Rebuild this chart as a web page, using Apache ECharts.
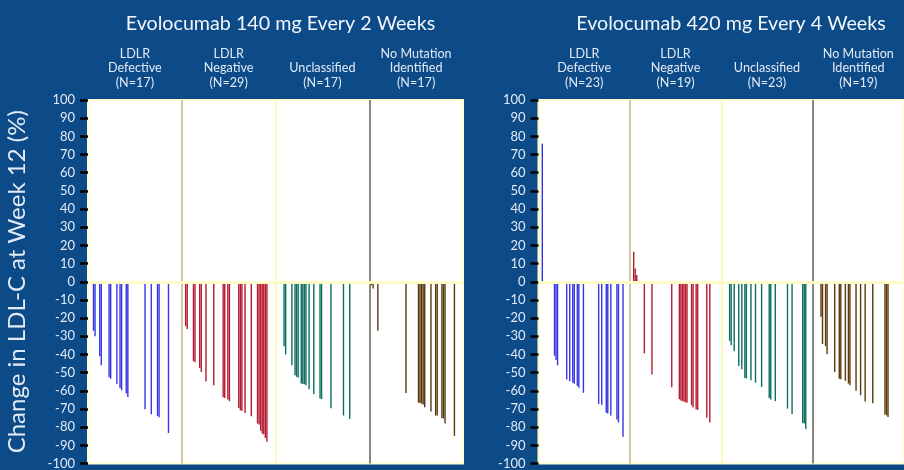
<!DOCTYPE html>
<html>
<head>
<meta charset="utf-8">
<script src="https://cdn.jsdelivr.net/npm/echarts@6/dist/echarts.min.js"></script>
<style>
  html, body { margin: 0; padding: 0; background: #0c4a88; }
  #chart { width: 904px; height: 470px; }
</style>
</head>
<body>
<div id="chart"></div>
<script>
// Percent change in LDL-C at week 12, one bar per patient, grouped by genotype.
// Each array is one genotype group; null marks an empty patient slot.
const panelTitles = ['Evolocumab 140 mg Every 2 Weeks', 'Evolocumab 420 mg Every 4 Weeks'];

const groupNames = ['LDLR\nDefective', 'LDLR\nNegative', 'Unclassified', 'No Mutation\nIdentified'];
const groupCountsQ2W = [17, 29, 17, 17];
const groupCountsQ4W = [23, 19, 23, 19];

const yTicks = { min: -100, max: 100, step: 10 };

// 140 mg every 2 weeks
const q2wDefective = [
  null, null, null, -27, -30, null, null, -41, -46, null,
  null, null, null, -52.5, -53.4, null, null, null, -56.2, null,
  -58.4, -59.7, null, null, -61.5, -63.4, null, null, null, null,
  null, null, null, null, null, null, -70.2, null, null, null,
  -72.9, null, null, null, -73.8, -74.6, null, null, null, null,
  null, -83.2
];
const q2wNegative = [
  null, null, -24.4, -26, null, null, null, -43.7, -44.3, null,
  null, -47.4, -49.6, null, null, -54.9, null, null, null, null,
  -56.9, null, null, null, null, null, -63.6, -63.9, null, -64.8,
  -65.7, null, null, null, null, null, -69.4, -70.7, -71.1, null,
  -72.2, null, null, null, -74, null, null, null, -78, -78.5,
  -82, -83.5, -84, -86, -88
];
const q2wUnclassified = [
  null, null, null, null, null, -35.5, -40, null, null, null,
  -46, null, -51.4, -52.3, -52.7, null, -56, -56.2, -56.4, -57,
  null, -59.1, null, null, -61.7, null, null, null, -64.3, -64.5,
  null, null, null, null, null, -69.6, null, null, null, null,
  null, null, null, -73.6, null, null, null, -75.5
];
const q2wNoMutation = [
  null, -2, -3.7, null, null, -27, null, null, null, null,
  null, null, null, null, null, null, null, null, null, null,
  null, null, null, -61.2, null, null, null, null, null, null,
  null, -66.5, -66.7, -67, -67.6, -69, null, null, null, -71.4,
  null, null, -73.6, -73.6, null, null, -75, -75.3, -78, null,
  null, null, null, null, -84.8
];

// 420 mg every 4 weeks
const q4wDefective = [
  null, null, 76, null, null, null, null, null, null, null,
  -40.7, -43, -46, null, null, null, null, null, -53.8, null,
  -54.7, null, -55.6, -56.1, null, -57.4, -58.3, null, null, -61.1,
  null, null, null, null, null, null, null, null, null, -67.3,
  null, -67.7, null, null, -72.1, -72.5, null, -73.6, null, null,
  null, -75.8, -77.4, null, null, -85.3
];
const q4wNegative = [
  null, null, 16.5, 7.3, 3.7, null, null, null, null, -39.4,
  null, null, null, null, -51, null, null, null, null, null,
  null, null, null, null, null, null, null, -58.1, null, null,
  null, null, -64.7, -65.3, -65.6, -66, -66.3, -66.6, null, null,
  -67.9, -69.2, null, -70.2, -70.6, null, null, null, null, null,
  -74.8, null, -77.4
];
const q4wUnclassified = [
  null, null, null, null, null, -32.5, -34.9, null, -38.2, null,
  null, -46.3, null, -48.1, null, -52.9, -53.2, null, null, -54.2,
  null, null, -55.5, null, null, null, -57.9, null, null, null,
  null, -63.9, -64.8, null, null, -65.7, null, null, null, null,
  null, null, null, -69.8, null, null, -72.7, null, null, null,
  null, null, null, -77.7, -78, -81
];
const q4wNoMutation = [
  null, null, null, null, null, -19.3, -34.3, null, -35.4, -39.9,
  null, null, null, null, -49.6, null, null, -53.4, -53.6, null,
  null, -54.5, null, -56, -57, null, null, null, -60, null,
  null, -62.4, null, null, -65.9, null, null, null, null, -66.9,
  null, null, null, null, null, null, null, -73, -73.5, -74.4
];

const groupColors = ['#3535e4', '#b61a30', '#0b6e5f', '#5a380c'];
const slotsPerGroup = 60;

const panels = [
  { title: panelTitles[0], counts: groupCountsQ2W, groups: [q2wDefective, q2wNegative, q2wUnclassified, q2wNoMutation], left: 88 },
  { title: panelTitles[1], counts: groupCountsQ4W, groups: [q4wDefective, q4wNegative, q4wUnclassified, q4wNoMutation], left: 538.5 }
];

const FONT = 'Lato, "Noto Sans", sans-serif';
const TEXT = '#e2eaf5';
const PLOT_TOP = 100;
const PLOT_H = 364;
const PLOT_W = 375;

const slotCount = slotsPerGroup * groupNames.length;
const slotCats = Array.from({ length: slotCount }, (_, i) => String(i));

const grid = [], xAxis = [], yAxis = [], series = [], title = [];

panels.forEach((p, pi) => {
  grid.push({
    left: p.left, top: PLOT_TOP, width: PLOT_W, height: PLOT_H,
    show: true, backgroundColor: '#ffffff', borderColor: '#fffdd0', borderWidth: 2
  });
  title.push({
    text: p.title,
    left: p.left + PLOT_W / 2, top: 9, textAlign: 'center',
    textStyle: { color: '#f2f6fb', fontSize: 19.7, fontWeight: 'normal', fontFamily: FONT }
  });
  // patient slots
  xAxis.push({
    type: 'category', gridIndex: pi, data: slotCats, boundaryGap: true,
    axisLine: { show: false }, axisTick: { show: false }, axisLabel: { show: false },
    splitLine: { show: false }
  });
  // genotype groups: headers on top, dividers between groups
  xAxis.push({
    type: 'category', gridIndex: pi, position: 'top',
    data: groupNames.map((n, gi) => (n.indexOf('\n') < 0 ? ' \n' + n : n) + '\n(N=' + p.counts[gi] + ')'),
    axisLine: { show: false }, axisTick: { show: false },
    axisLabel: { color: TEXT, fontSize: 12.6, lineHeight: 14.5, fontFamily: FONT, margin: 10, interval: 0 },
    splitLine: {
      show: true,
      lineStyle: { color: ['#fffdd0', '#cfc8a0', '#fff9c0', '#8a8a7a', '#fffdd0'], width: 2 }
    }
  });
  yAxis.push({
    type: 'value', gridIndex: pi, min: yTicks.min, max: yTicks.max, interval: yTicks.step,
    axisLine: { show: false },
    axisTick: { show: true, inside: false, length: 8, lineStyle: { color: '#000000', width: 2.5 } },
    axisLabel: { color: TEXT, fontSize: 13, fontFamily: FONT, margin: 13 },
    splitLine: { show: false },
    name: pi === 0 ? 'Change in LDL-C at Week 12 (%)' : '',
    nameLocation: 'middle', nameRotate: 90, nameGap: 59,
    nameTextStyle: { color: TEXT, fontSize: 24, fontFamily: FONT }
  });
  p.groups.forEach((arr, gi) => {
    const data = new Array(slotCount).fill(null);
    arr.forEach((v, i) => { data[gi * slotsPerGroup + i] = v; });
    series.push({
      type: 'bar', xAxisIndex: pi * 2, yAxisIndex: pi, data,
      barWidth: 1.4, barGap: '-100%', silent: true,
      itemStyle: { color: groupColors[gi] }
    });
  });
  // zero reference line
  series.push({
    type: 'line', xAxisIndex: pi * 2, yAxisIndex: pi, data: [], z: 5, silent: true,
    markLine: {
      silent: true, symbol: 'none', label: { show: false },
      lineStyle: { color: '#fffbc4', width: 3, type: 'solid' },
      data: [{ yAxis: 0 }]
    }
  });
});

const chart = echarts.init(document.getElementById('chart'), null, { renderer: 'canvas' });
chart.setOption({
  backgroundColor: '#0c4a88',
  animation: false,
  title, grid, xAxis, yAxis, series
});
</script>
</body>
</html>
